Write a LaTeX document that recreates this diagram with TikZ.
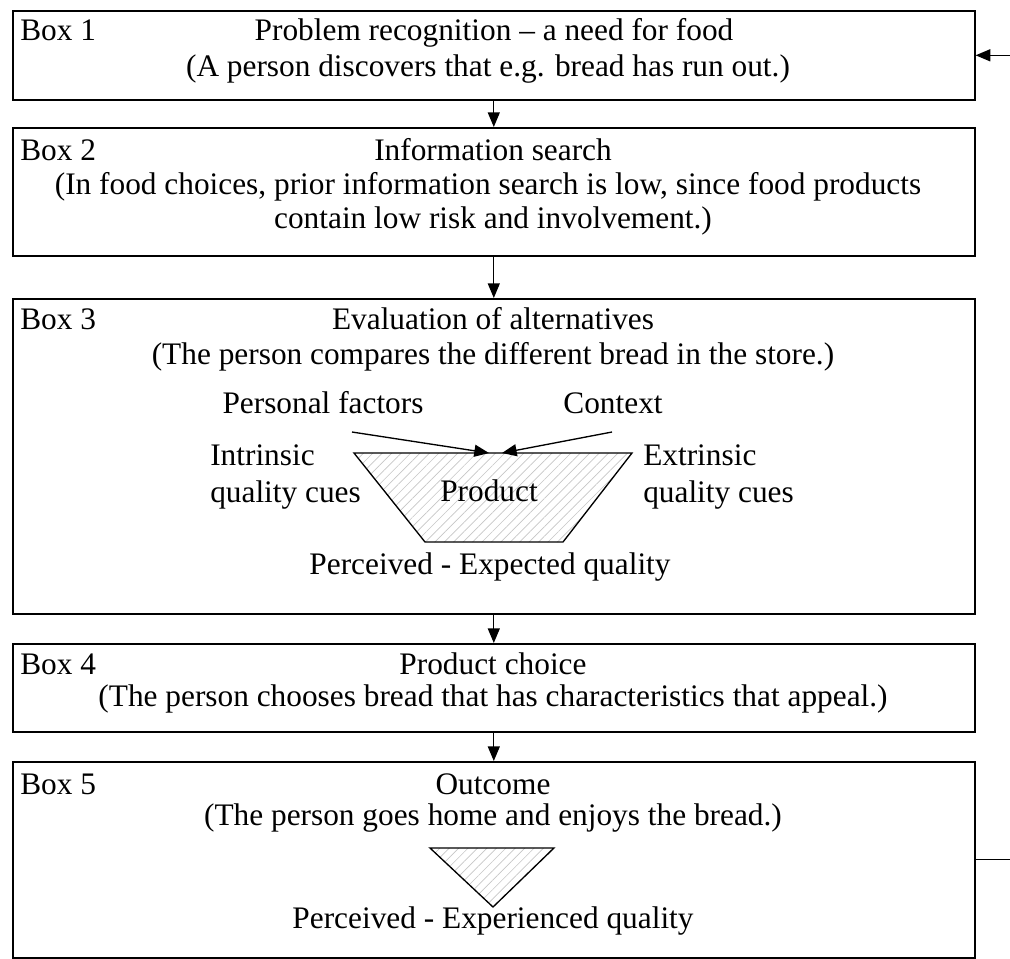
\documentclass[tikz,border=0pt]{standalone}
\usepackage{fontspec}
\setmainfont{Liberation Serif}
\usetikzlibrary{arrows.meta,patterns.meta}
\begin{document}
\begin{tikzpicture}[x=0.75pt,y=-0.75pt,
  box/.style={draw,line width=1.2pt,anchor=north west,inner sep=0,minimum width=962*0.75pt},
  txt/.style={inner sep=0,font=\fontsize{23.5}{27.5}\selectfont,text height=0.7em,text depth=0.2em},
  lbl/.style={txt,anchor=west},
  multi/.style={inner sep=0,font=\fontsize{23.5}{27.5}\selectfont,align=left,anchor=west},
  arr/.style={line width=1pt,-{Triangle[length=11pt,width=9pt]}},
  hatch/.style={draw,line width=1pt,pattern={Lines[angle=45,distance=5pt,line width=0.5pt]},pattern color=gray!45}
]
\useasboundingbox (0,0) rectangle (1010,958);
\clip (0,0) rectangle (1010,958);

% boxes
\node[box,minimum height=89*0.75pt]  (b1) at (12,10)  {};
\node[box,minimum height=128*0.75pt] (b2) at (12,127) {};
\node[box,minimum height=315*0.75pt] (b3) at (12,298) {};
\node[box,minimum height=88*0.75pt]  (b4) at (12,643) {};
\node[box,minimum height=196*0.75pt] (b5) at (12,761) {};

% box 1
\node[lbl] (l1) at (20,37) {Box 1};
\node[txt] (t1a) at (494,37) {Problem recognition – a need for food};
\node[txt] (t1b) at (488,73) {(A person discovers that e.g. bread has run out.)};

% box 2
\node[lbl] (l2) at (20,157) {Box 2};
\node[txt] (t2a) at (493,157) {Information search};
\node[txt] (t2b) at (488,191) {(In food choices, prior information search is low, since food products};
\node[txt] (t2c) at (493,225) {contain low risk and involvement.)};

% box 3
\node[lbl] (l3) at (20,326) {Box 3};
\node[txt] (t3a) at (493,326) {Evaluation of alternatives};
\node[txt] (t3b) at (493,361) {(The person compares the different bread in the store.)};
\node[txt] (pf) at (323,410) {Personal factors};
\node[txt] (ctx) at (613,410) {Context};
\node[multi] (intr) at (210,477) {Intrinsic\\quality cues};
\node[multi] (extr) at (643,477) {Extrinsic\\quality cues};
\draw[hatch] (354,453) coordinate (tl) -- (632,453) coordinate (tr) -- (563,542) -- (425,542) -- cycle;
\coordinate (tipL) at (489,453);
\coordinate (tipR) at (502,453);
\coordinate (pfs) at (352,432);
\coordinate (cxs) at (612,432);
\node[txt] (prod) at (489,498) {Product};
\node[txt] (peq) at (490,571) {Perceived - Expected quality};
\draw[arr] (pfs) -- (tipL);
\draw[arr] (cxs) -- (tipR);

% box 4
\node[lbl] (l4) at (20,671) {Box 4};
\node[txt] (t4a) at (493,671) {Product choice};
\node[txt] (t4b) at (493,703) {(The person chooses bread that has characteristics that appeal.)};

% box 5
\node[lbl] (l5) at (20,791) {Box 5};
\node[txt] (t5a) at (493,791) {Outcome};
\node[txt] (t5b) at (493,822) {(The person goes home and enjoys the bread.)};
\draw[hatch] (430,848) -- (554,848) -- (493,907) -- cycle;
\node[txt] (pxq) at (493,925) {Perceived - Experienced quality};

% connectors
\draw[arr] (b1.south) -- (b2.north);
\draw[arr] (b2.south) -- (b3.north);
\draw[arr] (b3.south) -- (b4.north);
\draw[arr] (b4.south) -- (b5.north);
\draw[arr] (b5.east) -- ++(80,0) |- (b1.east);
\end{tikzpicture}
\end{document}
